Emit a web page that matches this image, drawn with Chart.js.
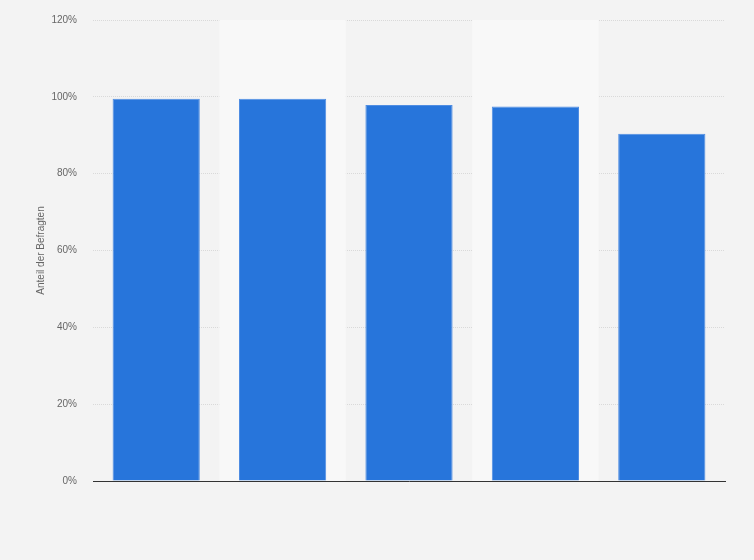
<!DOCTYPE html>
<html>
<head>
<meta charset="utf-8">
<script src="https://cdn.jsdelivr.net/npm/chart.js@4"></script>
<style>
  html, body { margin: 0; padding: 0; background: #f3f3f3; }
  #wrap { width: 754px; height: 560px; }
</style>
</head>
<body>
<div id="wrap"><canvas id="myChart" width="754" height="560"></canvas></div>
<script>
// values (x labels are not shown in the original)
const categories = ['1', '2', '3', '4', '5'];
const shares = [99.5, 99.5, 97.9, 97.5, 90.4];
const yTicks = [0, 20, 40, 60, 80, 100, 120];

// light vertical bands behind every second category
const bandPlugin = {
  id: 'bands',
  beforeDatasetsDraw(chart) {
    const { ctx, chartArea, scales } = chart;
    const x = scales.x;
    const half = (x.getPixelForValue(1) - x.getPixelForValue(0)) / 2;
    ctx.save();
    ctx.fillStyle = '#f8f8f8';
    categories.forEach((c, i) => {
      if (i % 2 === 1) {
        const cx = x.getPixelForValue(i);
        ctx.fillRect(cx - half, chartArea.top, half * 2, chartArea.bottom - chartArea.top);
      }
    });
    ctx.restore();
  }
};

const ctx = document.getElementById('myChart');
const myChart = new Chart(ctx, {
  type: 'bar',
  data: {
    labels: categories,
    datasets: [{
      data: shares,
      backgroundColor: '#2775db',
      borderColor: '#4f8de2',
      borderWidth: 1,
      barPercentage: 0.69,
      categoryPercentage: 1
    }]
  },
  options: {
    responsive: false,
    animation: false,
    layout: { padding: { left: 0, right: 29, top: 20, bottom: 79 } },
    plugins: { legend: { display: false }, tooltip: { enabled: false } },
    scales: {
      x: {
        grid: { display: false },
        border: { display: true, color: '#333333', width: 1 },
        ticks: { display: false },
        afterFit: (s) => { s.height = 0; }
      },
      y: {
        min: 0,
        max: 120,
        afterBuildTicks: (s) => { s.ticks = yTicks.map(v => ({ value: v })); },
        afterFit: (s) => { s.width = 93; s.paddingTop = 0; s.paddingBottom = 0; },
        grid: { color: '#d9d9d9', drawTicks: false },
        border: { display: false, dash: [1, 1] },
        ticks: {
          padding: 16,
          color: '#666666',
          font: { family: 'Arial, Liberation Sans', size: 10 },
          callback: (v) => v + '%'
        },
        title: {
          display: true,
          text: 'Anteil der Befragten',
          color: '#666666',
          font: { family: 'Arial, Liberation Sans', size: 10 },
          padding: { top: 35, bottom: 0 }
        }
      }
    }
  },
  plugins: [bandPlugin]
});
</script>
</body>
</html>
